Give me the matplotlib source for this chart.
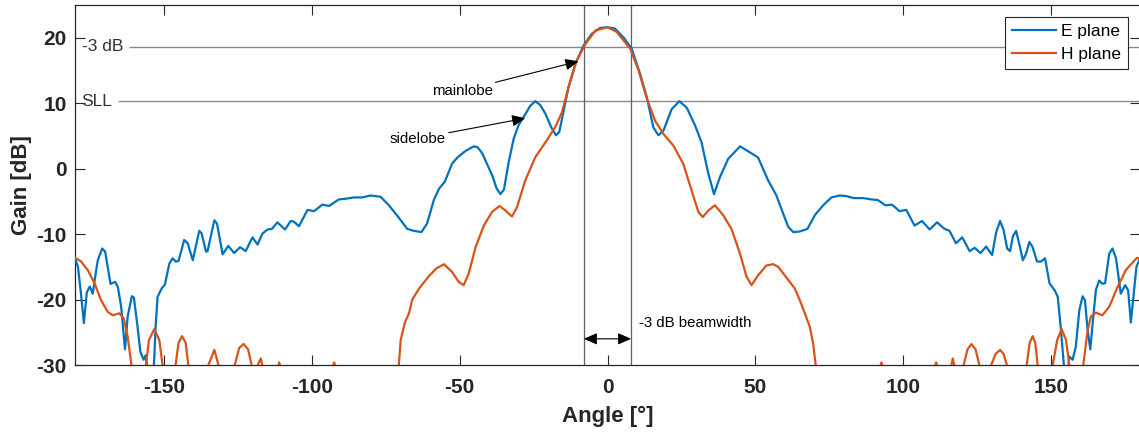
import numpy as np
import matplotlib
matplotlib.use('Agg')
import matplotlib.pyplot as plt

plt.rcParams['font.family'] = ['Liberation Sans', 'DejaVu Sans']
plt.rcParams['axes.unicode_minus'] = False

# E plane gain [dB] vs angle [deg]
e_angle = [-180, -179, -178, -177, -176, -175, -174, -173, -172.3, -170.8, -169.8,
           -168, -166.4, -165.5, -164.4, -163.1, -162.2, -160.8, -160.1, -159, -157.9,
           -156.8, -156.1, -155.2, -154, -153.2, -152.8, -152.1, -150.7, -149.6, -148.1,
           -147, -145.9, -145, -143.1, -141.9, -140.2, -138, -137.2, -135.7, -135.2,
           -132.9, -132, -130.1, -128.2, -126.2, -124.2, -122.3, -120, -118.3, -116.6,
           -114.9, -113.4, -111.6, -109, -107.1, -106, -104.3, -101.4, -99.2, -96.4,
           -94.1, -90.8, -88.5, -85.7, -82.9, -80.1, -76.7, -73.9, -70.7, -67.7, -65.5,
           -62.9, -61, -58.7, -57, -55, -52.5, -50.5, -48, -45.2, -44, -42.4, -40.5,
           -39, -37.5, -36.2, -35, -33.4, -31.7, -30, -27.8, -26.1, -24.4, -22.7, -21,
           -19, -17.4, -16.3, -14.8, -13.2, -10.9, -8.1, -5.3, -2.5, 0,
           2.5, 5.5, 8.2, 11, 13.3, 15.5, 17.2, 18.9, 21.7, 24.3, 26.8, 29.6, 31.8,
           34.1, 36, 38, 40.8, 44.8, 48.1, 50.9, 54.3, 57.1, 59.4, 61.1, 62.8, 65,
           67.6, 70.1, 72.9, 75.7, 78.5, 80.7, 83.3, 86.4, 89.2, 91.4, 93.9, 96.2,
           98.7, 101, 103.8, 106.3, 108.9, 111.4, 113.9, 115.6, 117.8, 119.9, 122.4,
           124.1, 126.1, 128, 130, 131.4, 132.7, 133.9, 135.1, 136.1, 137, 138.1,
           139.2, 140.4, 141.5, 142.6, 143.7, 145.2, 146.5, 147.9, 149.4, 151.3,
           152.2, 153.3, 154.2, 155, 155.6, 156.1, 157.2, 158.3, 159.5, 160.6, 161.4,
           162.3, 163.2, 164, 165.1, 166.2, 167.3, 168.2, 169.6, 170.7, 171.9, 173.5,
           175, 176, 176.9, 178, 178.8, 180]
e_gain = [-13.7, -15.0, -19.0, -23.6, -18.9, -18.0, -19.1, -16.0, -14.0, -12.2, -12.7,
          -17.6, -17.3, -18.1, -21.1, -27.6, -22.6, -19.5, -19.7, -23.6, -28.0,
          -29.2, -28.5, -31.5, -34, -29, -24.5, -19.6, -18.3, -17.7, -14.5,
          -13.7, -14.2, -14.1, -10.9, -11.4, -14.0, -9.5, -9.9, -12.7, -12.6,
          -7.9, -8.4, -13.1, -11.8, -12.9, -12.0, -12.6, -10.5, -11.6, -9.9,
          -9.3, -9.2, -8.2, -9.3, -8.0, -8.1, -8.8, -6.3, -6.5, -5.5,
          -5.7, -4.7, -4.6, -4.4, -4.4, -4.1, -4.3, -5.6, -7.4, -9.2, -9.5,
          -9.7, -8.4, -4.8, -3.1, -2.0, 0.8, 1.8, 2.7, 3.4, 3.3, 2.4, 0.5,
          -1.0, -3.0, -3.9, -3.2, 1.0, 4.6, 6.7, 8.3, 9.6, 10.3, 9.7, 8.4,
          6.3, 5.1, 5.6, 8.9, 12.4, 16.0, 18.8, 20.6, 21.5, 21.6,
          21.4, 20.0, 18.3, 14.5, 10.9, 6.3, 5.1, 5.8, 9.1, 10.3, 9.3, 6.6, 4.0,
          -0.8, -3.9, -1.3, 1.5, 3.4, 2.5, 1.7, -1.8, -4.1, -6.9, -8.9, -9.7, -9.6,
          -9.2, -7.1, -5.6, -4.4, -4.1, -4.2, -4.5, -4.5, -4.7, -4.8, -5.6, -5.5,
          -6.5, -6.3, -8.7, -8.0, -9.3, -8.2, -9.2, -9.5, -11.4, -10.5, -12.6,
          -12.1, -12.9, -11.9, -13.2, -9.7, -8.0, -9.4, -12.2, -12.6, -10.4, -9.5,
          -11.5, -14.0, -13.0, -11.2, -12.0, -14.2, -14.2, -13.7, -17.5, -18.7,
          -19.6, -24.7, -29.7, -33, -31, -28.7, -29.2, -27.2, -21.6, -19.5, -20.1,
          -24.7, -27.6, -23.6, -18.5, -17.1, -17.6, -17.5, -13.0, -12.2, -13.7, -19.1,
          -17.8, -18.6, -23.5, -18.6, -15.0, -13.7]

# H plane gain [dB] vs angle [deg]
h_angle = [-180, -177.9, -175.7, -173.4, -171.2, -168.9, -167.2, -165, -163.5, -162.2,
           -161, -160, -158, -156.5, -156, -155, -153.2, -151.5, -150.4, -149.5,
           -147.5, -146, -145, -143.8, -142.6, -141.7, -140.8, -138, -135.5, -134.9,
           -132.9, -131.5, -130.5, -128, -126.5, -126, -124.5, -123, -121.5, -120.3,
           -119.2, -117.2, -116.2, -113, -111, -110, -100, -93.4, -92.4, -91.4, -80,
           -71.3, -70.5, -69.9, -68.5, -67.1, -66, -63.5, -60.5, -58, -55.3, -52.5,
           -50.3, -48.6, -46.9, -44.6, -41.8, -39, -36.5, -34.5, -32.3, -30.6, -27.8,
           -24.4, -21, -17.6, -15.4, -13.2, -10.4, -7.5, -4.1, 0,
           3.1, 7.7, 10.5, 13.3, 16.1, 18.9, 22.3, 25.6, 28.4, 30.7, 32.2, 34.1,
           36.3, 39.1, 41.9, 44.8, 47, 48.7, 50.9, 53.7, 56, 57.7, 59.4, 61.6, 63.3,
           65, 66.7, 68.4, 69.5, 70.3, 71, 80, 91.6, 92.6, 93.6, 100, 110.1, 111.1,
           112.1, 114, 115.9, 116.7, 117.7, 119.3, 120.4, 121.7, 123, 124.4, 125.7,
           127, 129.7, 131.2, 132.7, 133.9, 135, 136, 139, 140.8, 141.7, 142.7,
           143.7, 144.6, 145.4, 146.5, 148.5, 149.6, 150.5, 152, 153.5, 155, 156.1,
           157, 158.5, 160.2, 160.9, 162.3, 163.4, 165.1, 167.3, 169.6, 172.4, 175.2,
           178.8, 180]
h_gain = [-13.6, -14.2, -15.5, -17.5, -20.1, -21.9, -22.4, -22.1, -22.9, -25.7,
          -29.7, -34, -40, -33, -30, -26.2, -24.5, -26.2, -30, -34,
          -36, -30, -26.6, -25.6, -26.6, -30, -34, -38, -32, -30,
          -27.7, -30, -33, -34, -31, -30, -27.4, -26.8, -27.6, -30,
          -31, -29.0, -31, -34, -29.6, -31, -40, -31, -29.6, -31, -40,
          -35, -29.7, -26.2, -23.5, -22.1, -20.0, -18.2, -16.5, -15.3, -14.6, -15.8,
          -17.3, -17.8, -16.0, -12.0, -8.7, -6.6, -5.7, -6.4, -7.3, -5.9, -1.8,
          1.75, 4.0, 6.4, 8.6, 12.4, 16.5, 19.0, 21.1, 21.6,
          20.9, 18.3, 15.0, 10.7, 7.3, 5.3, 3.5, 0.75, -3.3, -6.6, -7.4, -6.4,
          -5.6, -7.1, -9.2, -13.0, -16.5, -17.8, -16.3, -14.8, -14.6, -15.0, -16.0,
          -17.3, -18.3, -20.1, -22.1, -24.2, -26.7, -29.7, -35, -40, -31, -29.6,
          -31, -40, -31, -29.6, -31, -34, -31, -29.0, -31, -33, -30, -27.6,
          -26.8, -27.6, -30, -34, -30, -28.3, -27.7, -28.3, -30, -34, -38, -34,
          -30, -26.6, -25.6, -26.6, -30, -34, -36, -34, -30, -26.2, -24.5, -26.2,
          -30, -34, -40, -34, -29.7, -24.7, -22.6, -22.0, -22.4, -21.1, -18.1,
          -15.5, -13.7, -13.6]

peak_gain = 21.6
sll = 10.3
beam_edges = [-8, 8]

fig = plt.figure(figsize=(11.39, 4.36), dpi=100)
ax = fig.add_axes([75 / 1139, 71 / 436, 1065 / 1139, 360 / 436])

ax.plot(e_angle, e_gain, color='#0072BD', lw=1.6, label='E plane', zorder=3)
ax.plot(h_angle, h_gain, color='#D95319', lw=1.6, label='H plane', zorder=3)

# reference lines
ax.hlines(peak_gain - 3, -161.8, 180, color='#8a8a8a', lw=1.0, zorder=2)
ax.hlines(sll, -165.5, 180, color='#8a8a8a', lw=1.0, zorder=2)
ax.text(-177.8, peak_gain - 3, '-3 dB', fontsize=12.5, color='#333333',
        ha='left', va='center')
ax.text(-177.8, sll, 'SLL', fontsize=12.5, color='#333333', ha='left', va='center')
for xb in beam_edges:
    ax.axvline(xb, color='#606060', lw=0.9, zorder=2)

# annotations
arw = dict(arrowstyle='-|>,head_length=0.8,head_width=0.35', color='black',
           lw=0.8, mutation_scale=10, shrinkA=0, shrinkB=0)
ax.annotate('mainlobe', xy=(-9.8, 16.4), xytext=(-38.8, 11.9), fontsize=10.8,
            ha='right', va='center', arrowprops=arw)
ax.annotate('sidelobe', xy=(-27.8, 7.7), xytext=(-54.6, 4.6), fontsize=10.8,
            ha='right', va='center', arrowprops=arw)
ax.annotate('', xy=(beam_edges[0], -26), xytext=(beam_edges[1], -26),
            arrowprops=dict(arw, arrowstyle='<|-|>,head_length=0.8,head_width=0.35'))
ax.text(10.8, -23.6, '-3 dB beamwidth', fontsize=10.8, ha='left', va='center')

ax.set_xlim(-180, 180)
ax.set_ylim(-30, 25)
ax.set_xticks([-150, -100, -50, 0, 50, 100, 150])
ax.set_yticks([-30, -20, -10, 0, 10, 20])
ax.tick_params(direction='in', length=7.5, width=0.8, color='#262626',
               labelcolor='#262626', labelsize=15, top=True, right=True)
ax.tick_params(axis='x', pad=9)
ax.tick_params(axis='y', pad=6)
for lab in ax.get_xticklabels() + ax.get_yticklabels():
    lab.set_fontweight('bold')
for sp in ax.spines.values():
    sp.set_color('#262626')
    sp.set_linewidth(0.9)

ax.set_xlabel('Angle [°]', fontsize=16, fontweight='bold', color='#262626')
ax.set_ylabel('Gain [dB]', fontsize=16, fontweight='bold', color='#262626')
ax.xaxis.set_label_coords(0.5, -0.114)
ax.yaxis.set_label_coords(-0.040, 0.5)

leg = ax.legend(loc='upper right', fontsize=12.5, fancybox=False, framealpha=1,
                edgecolor='#262626', handlelength=2.5, handletextpad=0.3,
                labelspacing=0.45, borderpad=0.4, borderaxespad=0.7)
leg.get_frame().set_linewidth(0.8)

fig.savefig('out.png', dpi=100)
